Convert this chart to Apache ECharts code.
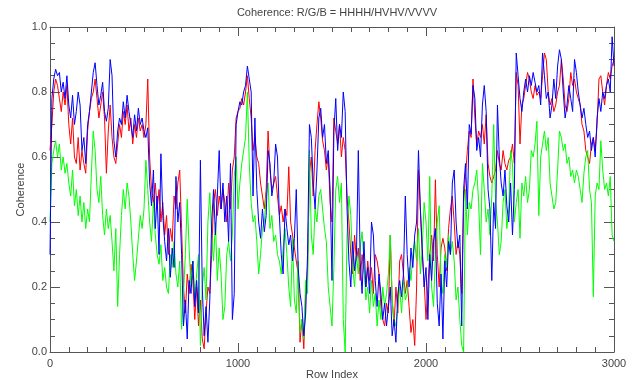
<!DOCTYPE html>
<html><head><meta charset="utf-8">
<script src="https://cdn.jsdelivr.net/npm/echarts@6/dist/echarts.min.js"></script>
<style>html,body{margin:0;padding:0;background:#fff}#c{width:638px;height:380px}</style>
</head><body><div id="c"></div>
<script>
var rowStep = 10;
var xTicks = [0, 1000, 2000, 3000];
var yTicks = [0.0, 0.2, 0.4, 0.6, 0.8, 1.0];
var hhhh = [
0.62,0.70,0.80,0.84,0.82,0.78,0.74,0.80,0.76,0.82,
0.70,0.64,0.72,0.60,0.58,0.66,0.56,0.62,0.58,0.55,
0.68,0.74,0.78,0.80,0.84,0.78,0.72,0.76,0.80,0.72,
0.55,0.68,0.76,0.66,0.60,0.58,0.64,0.70,0.66,0.74,
0.70,0.76,0.68,0.72,0.64,0.70,0.66,0.72,0.68,0.70,
0.66,0.70,0.84,0.60,0.50,0.46,0.52,0.44,0.50,0.40,
0.46,0.36,0.42,0.30,0.38,0.34,0.48,0.44,0.52,0.56,
0.38,0.20,0.12,0.24,0.18,0.27,0.22,0.10,0.20,0.08,
0.16,0.04,0.01,0.12,0.20,0.18,0.30,0.46,0.50,0.42,
0.48,0.44,0.50,0.46,0.40,0.52,0.44,0.56,0.60,0.72,
0.74,0.75,0.78,0.76,0.80,0.85,0.78,0.72,0.62,0.66,
0.60,0.58,0.52,0.48,0.44,0.50,0.68,0.56,0.50,0.52,
0.54,0.48,0.42,0.45,0.40,0.44,0.42,0.57,0.40,0.36,
0.32,0.28,0.24,0.03,0.10,0.01,0.18,0.26,0.55,0.60,
0.48,0.62,0.70,0.77,0.72,0.65,0.62,0.56,0.60,0.46,
0.40,0.72,0.68,0.64,0.70,0.60,0.66,0.62,0.48,0.40,
0.30,0.24,0.36,0.28,0.32,0.22,0.30,0.25,0.20,0.28,
0.22,0.26,0.18,0.30,0.28,0.24,0.14,0.10,0.08,0.15,
0.12,0.36,0.16,0.08,0.20,0.12,0.28,0.30,0.24,0.18,
0.22,0.14,0.06,0.10,0.02,0.20,0.56,0.44,0.30,0.22,
0.10,0.20,0.30,0.36,0.28,0.53,0.30,0.20,0.32,0.35,
0.32,0.25,0.38,0.44,0.48,0.40,0.30,0.34,0.30,0.18,
0.46,0.54,0.62,0.68,0.66,0.84,0.72,0.64,0.68,0.66,
0.70,0.64,0.73,0.58,0.54,0.52,0.54,0.56,0.62,0.58,
0.56,0.62,0.58,0.56,0.59,0.60,0.64,0.58,0.86,0.82,
0.64,0.76,0.78,0.82,0.86,0.84,0.80,0.78,0.82,0.79,
0.80,0.78,0.85,0.92,0.90,0.80,0.76,0.78,0.74,0.76,
0.80,0.82,0.90,0.84,0.76,0.74,0.78,0.86,0.82,0.84,
0.80,0.78,0.76,0.70,0.68,0.62,0.60,0.58,0.64,0.66,
0.62,0.70,0.84,0.85,0.80,0.76,0.82,0.86,0.84,0.88,
0.90];
var hvhv = [
0.40,0.58,0.62,0.65,0.60,0.64,0.56,0.60,0.55,0.58,
0.52,0.48,0.56,0.45,0.50,0.42,0.48,0.40,0.46,0.38,
0.44,0.40,0.55,0.68,0.62,0.50,0.46,0.54,0.42,0.36,
0.44,0.38,0.42,0.34,0.25,0.38,0.14,0.30,0.42,0.50,
0.44,0.52,0.48,0.40,0.30,0.22,0.28,0.35,0.42,0.38,
0.44,0.59,0.50,0.40,0.34,0.46,0.36,0.30,0.27,0.33,
0.22,0.26,0.20,0.18,0.30,0.26,0.34,0.24,0.20,0.28,
0.07,0.18,0.30,0.47,0.32,0.20,0.28,0.16,0.24,0.30,
0.02,0.20,0.26,0.16,0.40,0.49,0.36,0.28,0.40,0.22,
0.32,0.24,0.10,0.14,0.30,0.34,0.28,0.36,0.54,0.60,
0.44,0.52,0.58,0.62,0.66,0.80,0.58,0.46,0.40,0.42,
0.34,0.24,0.30,0.38,0.40,0.48,0.52,0.38,0.42,0.34,
0.36,0.30,0.28,0.24,0.32,0.38,0.30,0.20,0.14,0.35,
0.16,0.12,0.28,0.06,0.10,0.04,0.22,0.18,0.62,0.36,
0.30,0.44,0.40,0.48,0.50,0.44,0.38,0.34,0.20,0.14,
0.08,0.26,0.50,0.54,0.46,0.52,0.10,0.00,0.36,0.48,
0.42,0.26,0.20,0.30,0.24,0.32,0.37,0.28,0.16,0.20,
0.12,0.22,0.14,0.18,0.08,0.16,0.10,0.20,0.14,0.18,
0.24,0.36,0.16,0.10,0.08,0.14,0.20,0.12,0.22,0.16,
0.18,0.26,0.22,0.30,0.34,0.28,0.38,0.24,0.32,0.46,
0.40,0.28,0.54,0.20,0.14,0.30,0.40,0.45,0.22,0.18,
0.30,0.26,0.36,0.30,0.34,0.28,0.16,0.20,0.10,0.02,
0.00,0.50,0.36,0.46,0.44,0.50,0.52,0.56,0.46,0.30,
0.58,0.50,0.40,0.44,0.36,0.48,0.70,0.46,0.40,0.30,
0.34,0.46,0.50,0.38,0.44,0.62,0.58,0.40,0.46,0.50,
0.35,0.52,0.48,0.54,0.46,0.50,0.62,0.60,0.64,0.71,
0.42,0.60,0.64,0.68,0.62,0.66,0.52,0.48,0.44,0.46,
0.56,0.68,0.66,0.62,0.64,0.58,0.60,0.54,0.56,0.52,
0.56,0.54,0.50,0.46,0.55,0.60,0.62,0.50,0.46,0.17,
0.48,0.52,0.50,0.65,0.56,0.50,0.52,0.48,0.54,0.36,
0.34];
var vvvv = [
0.30,0.78,0.84,0.87,0.85,0.86,0.80,0.83,0.78,0.85,
0.76,0.72,0.79,0.70,0.74,0.80,0.76,0.62,0.66,0.58,
0.70,0.74,0.80,0.86,0.89,0.82,0.76,0.79,0.83,0.74,
0.71,0.75,0.90,0.85,0.65,0.60,0.68,0.72,0.70,0.77,
0.72,0.79,0.74,0.70,0.66,0.73,0.68,0.75,0.70,0.72,
0.68,0.66,0.69,0.52,0.45,0.56,0.38,0.48,0.30,0.61,
0.42,0.34,0.28,0.38,0.23,0.32,0.26,0.54,0.40,0.46,
0.30,0.08,0.16,0.04,0.22,0.18,0.28,0.14,0.22,0.12,
0.59,0.20,0.05,0.14,0.03,0.16,0.40,0.50,0.36,0.48,
0.62,0.44,0.52,0.40,0.48,0.34,0.58,0.10,0.18,0.70,
0.74,0.77,0.76,0.80,0.82,0.88,0.84,0.80,0.48,0.72,
0.50,0.40,0.35,0.44,0.37,0.42,0.62,0.58,0.48,0.52,
0.64,0.60,0.42,0.30,0.24,0.44,0.38,0.33,0.36,0.28,
0.35,0.50,0.26,0.18,0.14,0.05,0.12,0.30,0.70,0.66,
0.52,0.44,0.56,0.72,0.75,0.66,0.70,0.58,0.62,0.50,
0.22,0.68,0.78,0.62,0.70,0.66,0.80,0.74,0.44,0.28,
0.20,0.34,0.25,0.30,0.62,0.28,0.18,0.34,0.20,0.26,
0.18,0.40,0.36,0.22,0.14,0.24,0.18,0.10,0.15,0.08,
0.14,0.20,0.05,0.10,0.03,0.18,0.22,0.17,0.24,0.48,
0.30,0.20,0.32,0.26,0.36,0.40,0.62,0.44,0.32,0.20,
0.26,0.10,0.30,0.22,0.34,0.38,0.15,0.08,0.24,0.04,
0.28,0.20,0.34,0.30,0.52,0.56,0.40,0.32,0.36,0.08,
0.50,0.58,0.44,0.70,0.67,0.82,0.78,0.62,0.66,0.60,
0.76,0.82,0.74,0.50,0.44,0.22,0.46,0.38,0.76,0.60,
0.52,0.48,0.56,0.45,0.40,0.52,0.36,0.50,0.92,0.85,
0.78,0.74,0.80,0.84,0.80,0.85,0.82,0.86,0.83,0.80,
0.82,0.76,0.92,0.85,0.78,0.80,0.72,0.76,0.84,0.78,
0.88,0.93,0.90,0.80,0.72,0.76,0.82,0.78,0.74,0.90,
0.86,0.80,0.76,0.72,0.75,0.70,0.66,0.68,0.62,0.66,
0.60,0.72,0.78,0.74,0.80,0.78,0.82,0.84,0.80,0.97,
0.88];

function pairs(arr){ return arr.map(function(v,i){ return [i*rowStep, v]; }); }
var txt = '#444';
var axc = '#555';
var font = 'Liberation Sans';
var chart = echarts.init(document.getElementById('c'), null, {renderer:'canvas'});
var axLine = {show:true, onZero:false, lineStyle:{color:axc, width:1}};
function xAx(pos, labels){
  return {type:'value', min:0, max:3000, interval:1000, position:pos,
    axisLine:axLine, splitLine:{show:false},
    axisTick:{show:true, inside:true, length:9, lineStyle:{color:axc}},
    minorTick:{show:true, splitNumber:10, length:5, lineStyle:{color:axc}},
    axisLabel:{show:labels, color:txt, fontFamily:font, fontSize:11, margin:6,
      formatter:function(v){ return xTicks.indexOf(v)>=0 ? String(v) : ''; }},
    name: labels ? 'Row Index' : '', nameLocation:'middle', nameGap:17, nameMoveOverlap:false,
    nameTextStyle:{color:txt, fontFamily:font, fontSize:11}};
}
function yAx(pos, labels){
  return {type:'value', min:0, max:1, interval:0.2, position:pos,
    axisLine:axLine, splitLine:{show:false},
    axisTick:{show:true, inside:true, length:10, lineStyle:{color:axc}},
    minorTick:{show:true, splitNumber:4, length:5, lineStyle:{color:axc}},
    axisLabel:{show:labels, color:txt, fontFamily:font, fontSize:11, margin:3,
      formatter:function(v){ return v.toFixed(1); }},
    name: labels ? 'Coherence' : '', nameLocation:'middle', nameGap:24, nameMoveOverlap:false,
    nameTextStyle:{color:txt, fontFamily:font, fontSize:11}};
}
function ser(name, arr, color){
  return {name:name, type:'line', data:pairs(arr), xAxisIndex:0, yAxisIndex:0,
    showSymbol:false, symbol:'none', lineStyle:{color:color, width:1}, itemStyle:{color:color},
    silent:true, animation:false};
}
chart.setOption({
  animation:false,
  backgroundColor:'#fff',
  title:{text:'Coherence: R/G/B = HHHH/HVHV/VVVV', left:332, textAlign:'center', top:2,
    textStyle:{color:txt, fontFamily:font, fontSize:11, fontWeight:'normal'}},
  grid:{left:50, right:24, top:27, bottom:28, containLabel:false, outerBoundsMode:'none'},
  xAxis:[xAx('bottom', true), xAx('top', false)],
  yAxis:[yAx('left', true), yAx('right', false)],
  series:[ser('HHHH', hhhh, '#ff0000'), ser('HVHV', hvhv, '#00ff00'), ser('VVVV', vvvv, '#0000ff')]
});
</script></body></html>
